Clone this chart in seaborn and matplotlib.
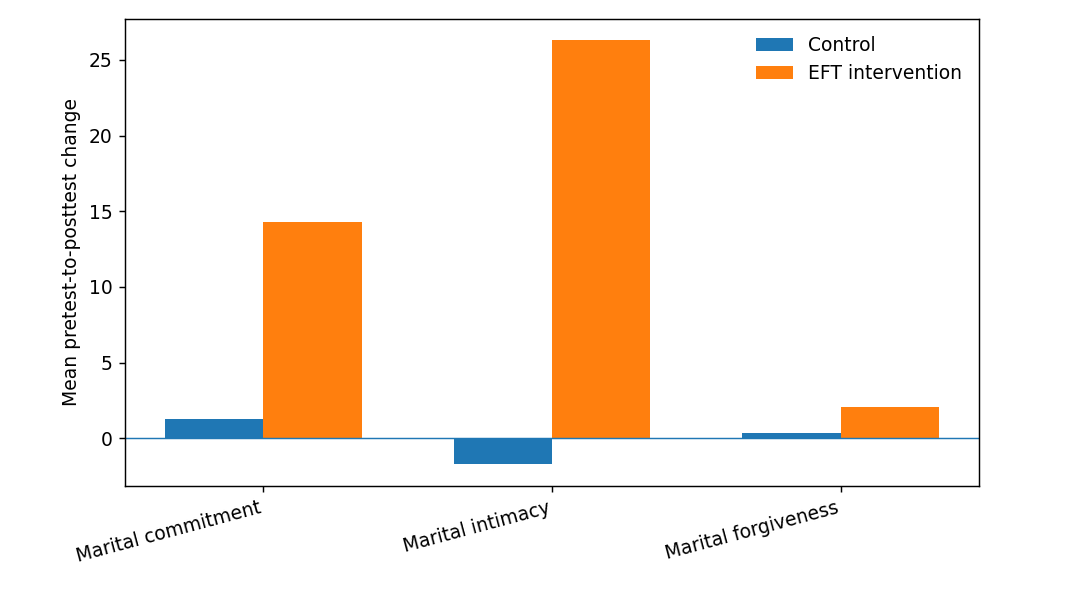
import matplotlib
matplotlib.use("Agg")
import matplotlib.pyplot as plt
import seaborn as sns
import pandas as pd

categories = ["Marital commitment", "Marital intimacy", "Marital forgiveness"]
control = [1.3, -1.7, 0.35]
eft = [14.3, 26.3, 2.1]
groups = ["Control", "EFT intervention"]

df = pd.DataFrame({
    "Outcome": categories * 2,
    "Change": control + eft,
    "Group": [groups[0]] * 3 + [groups[1]] * 3,
})

sns.set_style("ticks")
plt.rcParams["font.family"] = ["DejaVu Sans"]
plt.rcParams["font.size"] = 10.4
for k in ["text.color", "axes.labelcolor", "xtick.color", "ytick.color", "axes.edgecolor"]:
    plt.rcParams[k] = "black"

fig = plt.figure(figsize=(1091 / 130, 593 / 130), dpi=130)
ax = fig.add_axes([125 / 1091, 1 - 486 / 593, (979 - 125) / 1091, (486 - 19) / 593])
sns.barplot(data=df, x="Outcome", y="Change", hue="Group", width=0.68,
            palette=["#1f77b4", "#ff7f0e"], saturation=1, ax=ax, errorbar=None,
            linewidth=0, edgecolor="none")
ax.axhline(0, color="#1f77b4", linewidth=0.8)
ax.set_xlim(-0.48, 2.48)
ax.set_ylim(-3.15, 27.7)
ax.set_xlabel("")
ax.set_ylabel("Mean pretest-to-posttest change")
for lab in ax.get_xticklabels():
    lab.set_rotation(15)
    lab.set_ha("right")
for s in ax.spines.values():
    s.set_visible(True)
    s.set_color("black")
    s.set_linewidth(0.8)
ax.tick_params(colors="black", length=3.5, width=0.8)
ax.legend(frameon=False, loc="upper right")
fig.savefig("out.png", dpi=130)
